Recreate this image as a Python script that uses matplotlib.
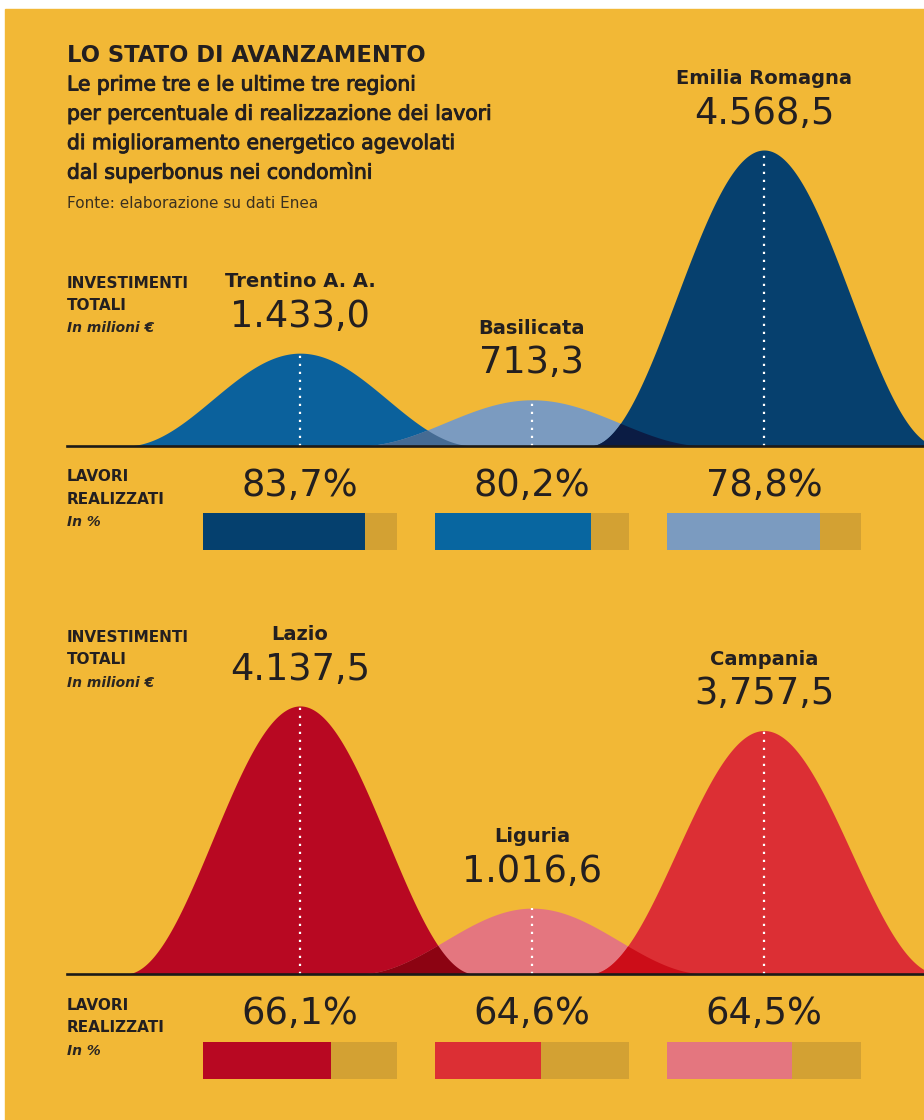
import numpy as np
import matplotlib
matplotlib.use("Agg")
import matplotlib.pyplot as plt
import matplotlib.patheffects as pe
from matplotlib.patches import Rectangle
from matplotlib.transforms import blended_transform_factory

# ---- data -------------------------------------------------------------
regions_top = ["Trentino A. A.", "Basilicata", "Emilia Romagna"]
invest_top = [1433.0, 713.3, 4568.5]
invest_top_txt = ["1.433,0", "713,3", "4.568,5"]
pct_top = ["83,7%", "80,2%", "78,8%"]
bar_top = [83.7, 80.2, 78.8]

regions_bot = ["Lazio", "Liguria", "Campania"]
invest_bot = [4137.5, 1016.6, 3757.5]
invest_bot_txt = ["4.137,5", "1.016,6", "3,757,5"]
pct_bot = ["66,1%", "64,6%", "64,5%"]
# bar lengths as printed (the Liguria bar is drawn shorter than its label)
bar_bot = [66.1, 54.6, 64.5]

# ---- style ------------------------------------------------------------
W, H = 924, 1120
BG = "#f2b836"
TRACK = "#d3a133"
INK = "#231f20"

CURVE_TOP = ["#0b619c", "#7b9bc0", "#06406e"]
OVER_TOP = {(0, 1): "#456b93", (1, 2): "#0b1c44", (0, 2): "#06305a"}
BARS_TOP = ["#05406e", "#0866a0", "#7b9bc0"]

CURVE_BOT = ["#b80822", "#e4767f", "#dc2f34"]
OVER_BOT = {(0, 1): "#8c0312", (1, 2): "#cc0d18", (0, 2): "#9a0418"}
BARS_BOT = ["#b80822", "#dc2f34", "#e4767f"]

plt.rcParams["font.family"] = "DejaVu Sans"
YMAX = 5000
HALF_W = 0.754       # half-width of each bell, in slot units
XL = (-1.0043, 2.6897)
NUM_SIZE = 26.5
# thin outline in the text colour -> semibold look for the subtitle
SEMI = [pe.withStroke(linewidth=0.7, foreground=INK)]


def fx(px):
    return px / W


def fy(py):
    return 1 - py / H


def bell(x, c, v):
    d = np.abs(x - c) / HALF_W
    return np.where(d < 1, v * 0.5 * (1 + np.cos(np.pi * d)), 0.0)


def curves(ax, values, colors, overlaps, names, value_txt):
    x = np.linspace(XL[0], XL[1], 1500)
    ys = [bell(x, i, v) for i, v in enumerate(values)]
    for y, col in zip(ys, colors):
        ax.fill_between(x, 0, y, color=col, lw=0)
    for (a, b), col in overlaps.items():
        ax.fill_between(x, 0, np.minimum(ys[a], ys[b]), color=col, lw=0)
    for i, v in enumerate(values):
        ax.plot([i, i], [0, v], color="white", lw=1.6, ls=(0, (1, 2.6)))
        ax.annotate(value_txt[i], xy=(i, v), xytext=(0, 26.5),
                    textcoords="offset points", ha="center", va="center",
                    fontsize=NUM_SIZE, color=INK, annotation_clip=False)
        ax.annotate(names[i], xy=(i, v), xytext=(0, 51.5),
                    textcoords="offset points", ha="center", va="center",
                    fontsize=14, fontweight="bold",
                    color=INK, annotation_clip=False)
    ax.axhline(0, color="#1c1a17", lw=1.9, clip_on=False, zorder=5)
    ax.set_xlim(*XL)
    ax.set_ylim(0, YMAX)
    ax.axis("off")


def bars(ax, fills, colors):
    bw = 0.836
    for i, (f, col) in enumerate(zip(fills, colors)):
        ax.bar(i - bw / 2, 1, width=bw, align="edge", color=TRACK, lw=0)
        ax.bar(i - bw / 2, 1, width=bw * f / 100, align="edge", color=col, lw=0)
    ax.set_xlim(*XL)
    ax.set_ylim(0, 1)
    ax.axis("off")


fig = plt.figure(figsize=(W / 100, H / 100), dpi=100, facecolor="white")
fig.add_artist(Rectangle((fx(5), 0), fx(919), 1 - 9 / H,
                         transform=fig.transFigure, color=BG, zorder=0))

# panels: baseline pixel y, bar top pixel y, percent text y
for base, bar_y, pct_y, vals, vtxt, names, cc, oc, bc, fills, ptxt in [
    (446, 513, 485, invest_top, invest_top_txt, regions_top,
     CURVE_TOP, OVER_TOP, BARS_TOP, bar_top, pct_top),
    (974, 1042, 1013, invest_bot, invest_bot_txt, regions_bot,
     CURVE_BOT, OVER_BOT, BARS_BOT, bar_bot, pct_bot),
]:
    hpx = 296 * YMAX / 4568.5
    ax = fig.add_axes([fx(67), fy(base), fx(W - 67), hpx / H])
    ax.patch.set_visible(False)
    curves(ax, vals, cc, oc, names, vtxt)

    bax = fig.add_axes([fx(67), fy(bar_y + 37), fx(W - 67), 37 / H])
    bax.patch.set_visible(False)
    bars(bax, fills, bc)
    tr = blended_transform_factory(bax.transData, fig.transFigure)
    for i, t in enumerate(ptxt):
        bax.text(i, fy(pct_y), t, transform=tr, ha="center", va="center",
                 fontsize=NUM_SIZE, color=INK)


# left side labels
def side(y0, a, b, c):
    fig.text(fx(67), fy(y0), a, fontsize=11, fontweight="bold",
             color=INK, va="center")
    fig.text(fx(67), fy(y0 + 22), b, fontsize=11, fontweight="bold",
             color=INK, va="center")
    fig.text(fx(67), fy(y0 + 45), c, fontsize=10, style="italic",
             fontweight="bold", color="#2a2522", va="center")


side(283, "INVESTIMENTI", "TOTALI", "In milioni €")
side(477, "LAVORI", "REALIZZATI", "In %")
side(638, "INVESTIMENTI", "TOTALI", "In milioni €")
side(1006, "LAVORI", "REALIZZATI", "In %")

# header
fig.text(fx(67), fy(55), "LO STATO DI AVANZAMENTO", fontsize=16.3,
         fontweight="heavy", color=INK, va="center")
sub = ["Le prime tre e le ultime tre regioni",
       "per percentuale di realizzazione dei lavori",
       "di miglioramento energetico agevolati",
       "dal superbonus nei condomìni"]
for k, line in enumerate(sub):
    fig.text(fx(67), fy(85 + 29.3 * k), line, fontsize=14.6,
             color=INK, va="center", path_effects=SEMI)
fig.text(fx(67), fy(203), "Fonte: elaborazione su dati Enea", fontsize=11,
         color="#3a3020", va="center")

fig.savefig("out.png", dpi=100, facecolor="white")
